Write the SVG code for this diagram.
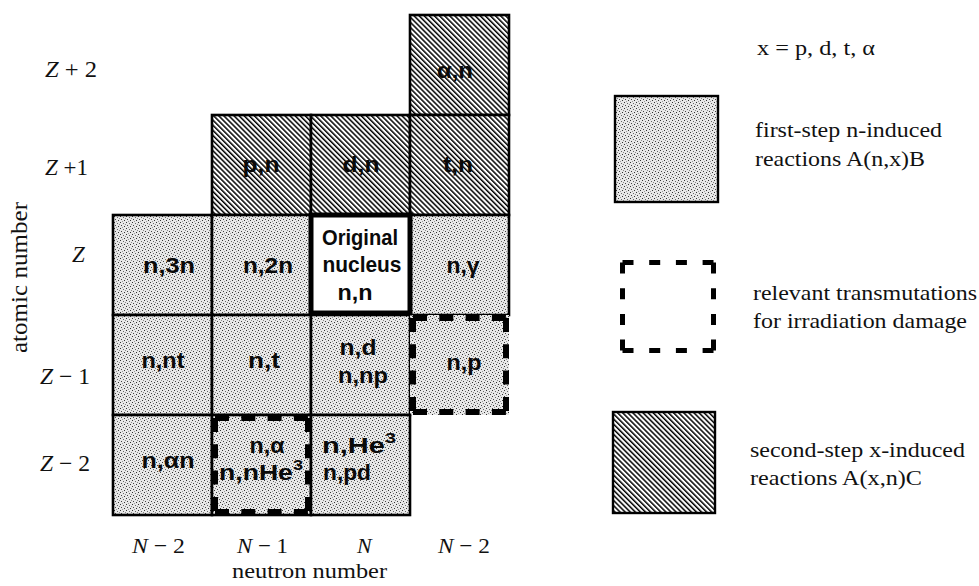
<svg xmlns="http://www.w3.org/2000/svg" width="979" height="586" viewBox="0 0 979 586">
<style>
.cell{stroke:#000;stroke-width:2.6}
.hat{fill:url(#hatch)}
.dot{fill:url(#dots)}
.lbl{font-family:"Liberation Sans",Arial,sans-serif;font-weight:bold;font-size:22px;fill:#0a0a0a;text-anchor:middle}
.ser{font-family:"Liberation Serif","Times New Roman",serif;font-size:23px;fill:#111}
.leg{font-family:"Liberation Serif","Times New Roman",serif;font-size:22px;fill:#111}
.dash{stroke:#000;stroke-width:6;fill:none}
.dashL{stroke:#000;stroke-width:5;fill:none}
</style>
<defs>
<pattern id="hatch" width="3.6" height="3.6" patternUnits="userSpaceOnUse" patternTransform="rotate(-45)">
<rect width="3.6" height="3.6" fill="#fff"/>
<rect width="1.5" height="3.6" fill="#000"/>
</pattern>
<pattern id="dots" width="6" height="6" patternUnits="userSpaceOnUse">
<rect width="6" height="6" fill="#e8e8e8"/>
<rect x="0" y="0" width="1" height="1" fill="#333"/>
<rect x="3" y="1" width="1" height="1" fill="#666"/>
<rect x="1" y="3" width="1" height="1" fill="#444"/>
<rect x="4" y="4" width="1" height="1" fill="#333"/>
<rect x="5" y="2" width="1" height="1" fill="#888"/>
<rect x="2" y="5" width="1" height="1" fill="#999"/>
</pattern>
</defs>
<rect width="979" height="586" fill="#fff"/>

<!-- second-step cells -->
<g id="cell-alpha-n"><rect class="cell hat" x="410" y="15" width="99" height="100"/><text class="lbl" x="455" y="78" textLength="36" lengthAdjust="spacingAndGlyphs">α,n</text></g>
<g id="cell-p-n"><rect class="cell hat" x="212" y="115" width="99" height="100"/><text class="lbl" x="261" y="172" textLength="37" lengthAdjust="spacingAndGlyphs">p,n</text></g>
<g id="cell-d-n"><rect class="cell hat" x="311" y="115" width="99" height="100"/><text class="lbl" x="361" y="172" textLength="37" lengthAdjust="spacingAndGlyphs">d,n</text></g>
<g id="cell-t-n"><rect class="cell hat" x="410" y="115" width="99" height="100"/><text class="lbl" x="458" y="172" textLength="30" lengthAdjust="spacingAndGlyphs">t,n</text></g>

<!-- first-step cells -->
<g id="cell-n-3n"><rect class="cell dot" x="113" y="215" width="99" height="100"/><text class="lbl" x="169" y="273" textLength="52" lengthAdjust="spacingAndGlyphs">n,3n</text></g>
<g id="cell-n-2n"><rect class="cell dot" x="212" y="215" width="99" height="100"/><text class="lbl" x="268" y="273" textLength="50" lengthAdjust="spacingAndGlyphs">n,2n</text></g>
<g id="cell-n-gamma"><rect class="cell dot" x="410" y="215" width="99" height="100"/><text class="lbl" x="463" y="273" textLength="33" lengthAdjust="spacingAndGlyphs">n,γ</text></g>
<g id="cell-n-nt"><rect class="cell dot" x="113" y="315" width="99" height="100"/><text class="lbl" x="163" y="368" textLength="43" lengthAdjust="spacingAndGlyphs">n,nt</text></g>
<g id="cell-n-t"><rect class="cell dot" x="212" y="315" width="99" height="100"/><text class="lbl" x="264" y="368" textLength="32" lengthAdjust="spacingAndGlyphs">n,t</text></g>
<g id="cell-n-d"><rect class="cell dot" x="311" y="315" width="99" height="100"/><text class="lbl" x="358" y="355" textLength="37" lengthAdjust="spacingAndGlyphs">n,d</text><text class="lbl" x="363" y="383" textLength="50" lengthAdjust="spacingAndGlyphs">n,np</text></g>
<g id="cell-n-p"><rect class="dot" x="410" y="315" width="99" height="100"/>
<path class="dash" stroke-dasharray="14 12.3" d="M413 318H506M506 318V412M413 412H506M413 318V412"/>
<text class="lbl" x="464" y="370" textLength="35" lengthAdjust="spacingAndGlyphs">n,p</text></g>
<g id="cell-n-alphan"><rect class="cell dot" x="113" y="415" width="99" height="100"/><text class="lbl" x="168" y="468" textLength="53" lengthAdjust="spacingAndGlyphs">n,αn</text></g>
<g id="cell-n-alpha"><rect class="cell dot" x="212" y="415" width="99" height="100"/>
<path class="dash" stroke-dasharray="14 12.3" d="M215 418H308M308 418V512M215 512H308M215 418V512"/>
<text class="lbl" x="267" y="453" textLength="35" lengthAdjust="spacingAndGlyphs">n,α</text>
<text class="lbl" x="261" y="480" textLength="84" lengthAdjust="spacingAndGlyphs">n,nHe<tspan font-size="15" dy="-10">3</tspan></text></g>
<g id="cell-n-he3"><rect class="cell dot" x="311" y="415" width="99" height="100"/>
<text class="lbl" x="359" y="453" textLength="74" lengthAdjust="spacingAndGlyphs">n,He<tspan font-size="15" dy="-10">3</tspan></text>
<text class="lbl" x="347" y="480" textLength="48" lengthAdjust="spacingAndGlyphs">n,pd</text></g>

<!-- original nucleus -->
<g id="cell-original"><rect x="311" y="215" width="99" height="98" fill="#fff" stroke="#000" stroke-width="5"/>
<text class="lbl" x="360" y="245" textLength="76" lengthAdjust="spacingAndGlyphs">Original</text>
<text class="lbl" x="362" y="272" textLength="79" lengthAdjust="spacingAndGlyphs">nucleus</text>
<text class="lbl" x="355" y="300" textLength="35" lengthAdjust="spacingAndGlyphs">n,n</text></g>

<!-- axis labels -->
<g id="z-labels" class="ser">
<text x="45" y="77" textLength="52" lengthAdjust="spacingAndGlyphs"><tspan font-style="italic">Z</tspan> + 2</text>
<text x="45" y="175" textLength="43" lengthAdjust="spacingAndGlyphs"><tspan font-style="italic">Z</tspan> +1</text>
<text x="72" y="262"><tspan font-style="italic">Z</tspan></text>
<text x="40" y="384" textLength="50" lengthAdjust="spacingAndGlyphs"><tspan font-style="italic">Z</tspan> − 1</text>
<text x="40" y="471" textLength="50" lengthAdjust="spacingAndGlyphs"><tspan font-style="italic">Z</tspan> − 2</text>
</g>
<text id="y-axis-title" class="ser" transform="translate(27,353) rotate(-90)" x="0" y="0" textLength="151" lengthAdjust="spacingAndGlyphs">atomic number</text>
<g id="n-labels" class="ser" style="font-size:22px">
<text x="132" y="553" textLength="53" lengthAdjust="spacingAndGlyphs"><tspan font-style="italic">N</tspan> − 2</text>
<text x="237" y="553" textLength="51" lengthAdjust="spacingAndGlyphs"><tspan font-style="italic">N</tspan> − 1</text>
<text x="357" y="553"><tspan font-style="italic">N</tspan></text>
<text x="438" y="553" textLength="52" lengthAdjust="spacingAndGlyphs"><tspan font-style="italic">N</tspan> − 2</text>
</g>
<text id="x-axis-title" class="ser" style="font-size:21px" x="232" y="578" textLength="155" lengthAdjust="spacingAndGlyphs">neutron number</text>

<!-- legend -->
<g id="legend">
<text class="leg" x="757" y="55" textLength="118" lengthAdjust="spacingAndGlyphs">x = p, d, t, α</text>
<g id="legend-first"><rect class="dot" x="615" y="96" width="103" height="106" stroke="#000" stroke-width="2.4"/>
<text class="leg" x="755" y="137" textLength="187" lengthAdjust="spacingAndGlyphs">first-step n-induced</text>
<text class="leg" x="755" y="166" textLength="170" lengthAdjust="spacingAndGlyphs">reactions A(n,x)B</text></g>
<g id="legend-dashed">
<path class="dashL" stroke-dasharray="11 15.7" d="M622.5 262.5H713.5M622.5 350.5H713.5"/>
<path class="dashL" stroke-dasharray="11 14.7" d="M622.5 262.5V350.5M713.5 262.5V350.5"/>
<text class="leg" x="753" y="300" textLength="224" lengthAdjust="spacingAndGlyphs">relevant transmutations</text>
<text class="leg" x="753" y="328" textLength="214" lengthAdjust="spacingAndGlyphs">for irradiation damage</text></g>
<g id="legend-second"><rect class="hat" x="613" y="412" width="102" height="101" stroke="#000" stroke-width="2.4"/>
<text class="leg" x="750" y="457" textLength="215" lengthAdjust="spacingAndGlyphs">second-step x-induced</text>
<text class="leg" x="750" y="485" textLength="172" lengthAdjust="spacingAndGlyphs">reactions A(x,n)C</text></g>
</g>
</svg>
